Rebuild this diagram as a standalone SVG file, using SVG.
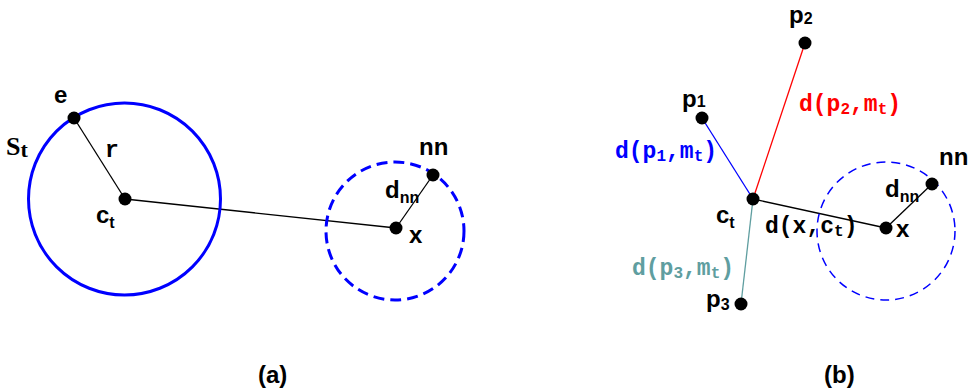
<svg xmlns="http://www.w3.org/2000/svg" width="972" height="391" viewBox="0 0 972 391">
<style>
.lbl{font-family:"Liberation Sans",Arial,sans-serif;font-weight:bold;font-size:24px;fill:#000}
.sub{font-size:16px}
.mono{font-family:"Liberation Mono","Courier New",monospace;font-weight:bold;font-size:23px}
.msub{font-size:16px}
.dot{fill:#000}
.ln{stroke:#000;stroke-width:1.3;fill:none}
</style>
<rect width="972" height="391" fill="#fff"/>
<g id="connectors">
<line class="ln" x1="125" y1="199" x2="74" y2="118"/>
<line class="ln" x1="125" y1="199" x2="396" y2="228"/>
<line class="ln" x1="396" y1="228" x2="433" y2="175"/>
<line x1="753" y1="199" x2="702" y2="118" stroke="#0000ff" stroke-width="1.3"/>
<line x1="753" y1="199" x2="805" y2="43" stroke="#ff0000" stroke-width="1.3"/>
<line x1="753" y1="199" x2="741" y2="304" stroke="#5f9ea0" stroke-width="1.3"/>
<line class="ln" x1="753" y1="199" x2="886" y2="228"/>
<line class="ln" x1="886" y1="228" x2="932" y2="184"/>
</g>
<g id="St">
<circle cx="124.5" cy="199" r="96" fill="none" stroke="#0000ff" stroke-width="3"/>
<text x="6" y="155" font-family="'Liberation Serif','Times New Roman',serif" font-weight="bold" font-size="26">S<tspan font-size="22" dy="2">t</tspan></text>
</g>
<g id="nn-circle-a">
<circle cx="395" cy="231" r="69" fill="none" stroke="#0000ff" stroke-width="3" stroke-dasharray="11 6"/>
</g>
<g id="nn-circle-b">
<circle cx="886" cy="231" r="69" fill="none" stroke="#0000ff" stroke-width="1.5" stroke-dasharray="9 6"/>
</g>
<g id="e"><circle class="dot" cx="74" cy="118" r="6.5"/><text class="lbl" x="54" y="103">e</text></g>
<g id="r"><text class="mono" x="105" y="157">r</text></g>
<g id="ct-a"><circle class="dot" cx="125" cy="199" r="6.5"/><text class="lbl" x="96" y="223">c<tspan class="sub" dy="5">t</tspan></text></g>
<g id="x-a"><circle class="dot" cx="396" cy="228" r="6.5"/><text class="lbl" x="409" y="243">x</text></g>
<g id="nn-a"><circle class="dot" cx="433" cy="175" r="6.5"/><text class="lbl" x="419" y="155">nn</text></g>
<g id="dnn-a"><text class="lbl" x="385" y="198">d<tspan class="sub" dy="5">nn</tspan></text></g>
<g id="ct-b"><circle class="dot" cx="753" cy="199" r="6.5"/><text class="lbl" x="716" y="223">c<tspan class="sub" dy="5">t</tspan></text></g>
<g id="p1"><circle class="dot" cx="702" cy="118" r="6.5"/><text class="lbl" x="682" y="107">p<tspan class="sub" dy="0">1</tspan></text></g>
<g id="p2"><circle class="dot" cx="805" cy="43" r="6.5"/><text class="lbl" x="789" y="23">p<tspan class="sub" dy="1">2</tspan></text></g>
<g id="p3"><circle class="dot" cx="741" cy="304" r="6.5"/><text class="lbl" x="706" y="307">p<tspan class="sub" dy="3">3</tspan></text></g>
<g id="x-b"><circle class="dot" cx="886" cy="228" r="6.5"/><text class="lbl" x="896" y="237">x</text></g>
<g id="nn-b"><circle class="dot" cx="932" cy="184" r="6.5"/><text class="lbl" x="939" y="165">nn</text></g>
<g id="dnn-b"><text class="lbl" x="885" y="197">d<tspan class="sub" dy="5">nn</tspan></text></g>
<g id="labels-b">
<text class="mono" x="799" y="111" fill="#ff0000">d(p<tspan class="msub" dy="3">2</tspan><tspan dy="-3">,m</tspan><tspan class="msub" dy="3">t</tspan><tspan dy="-3">)</tspan></text>
<text class="mono" x="615" y="158" fill="#0000ff">d(p<tspan class="msub" dy="3">1</tspan><tspan dy="-3">,m</tspan><tspan class="msub" dy="3">t</tspan><tspan dy="-3">)</tspan></text>
<text class="mono" x="632" y="275" fill="#5f9ea0">d(p<tspan class="msub" dy="3">3</tspan><tspan dy="-3">,m</tspan><tspan class="msub" dy="3">t</tspan><tspan dy="-3">)</tspan></text>
<text class="mono" x="765" y="233" fill="#000">d(x,c<tspan class="msub" dy="3">t</tspan><tspan dy="-3">)</tspan></text>
</g>
<g id="captions">
<text class="lbl" x="258" y="383">(a)</text>
<text class="lbl" x="824" y="383">(b)</text>
</g>
</svg>
